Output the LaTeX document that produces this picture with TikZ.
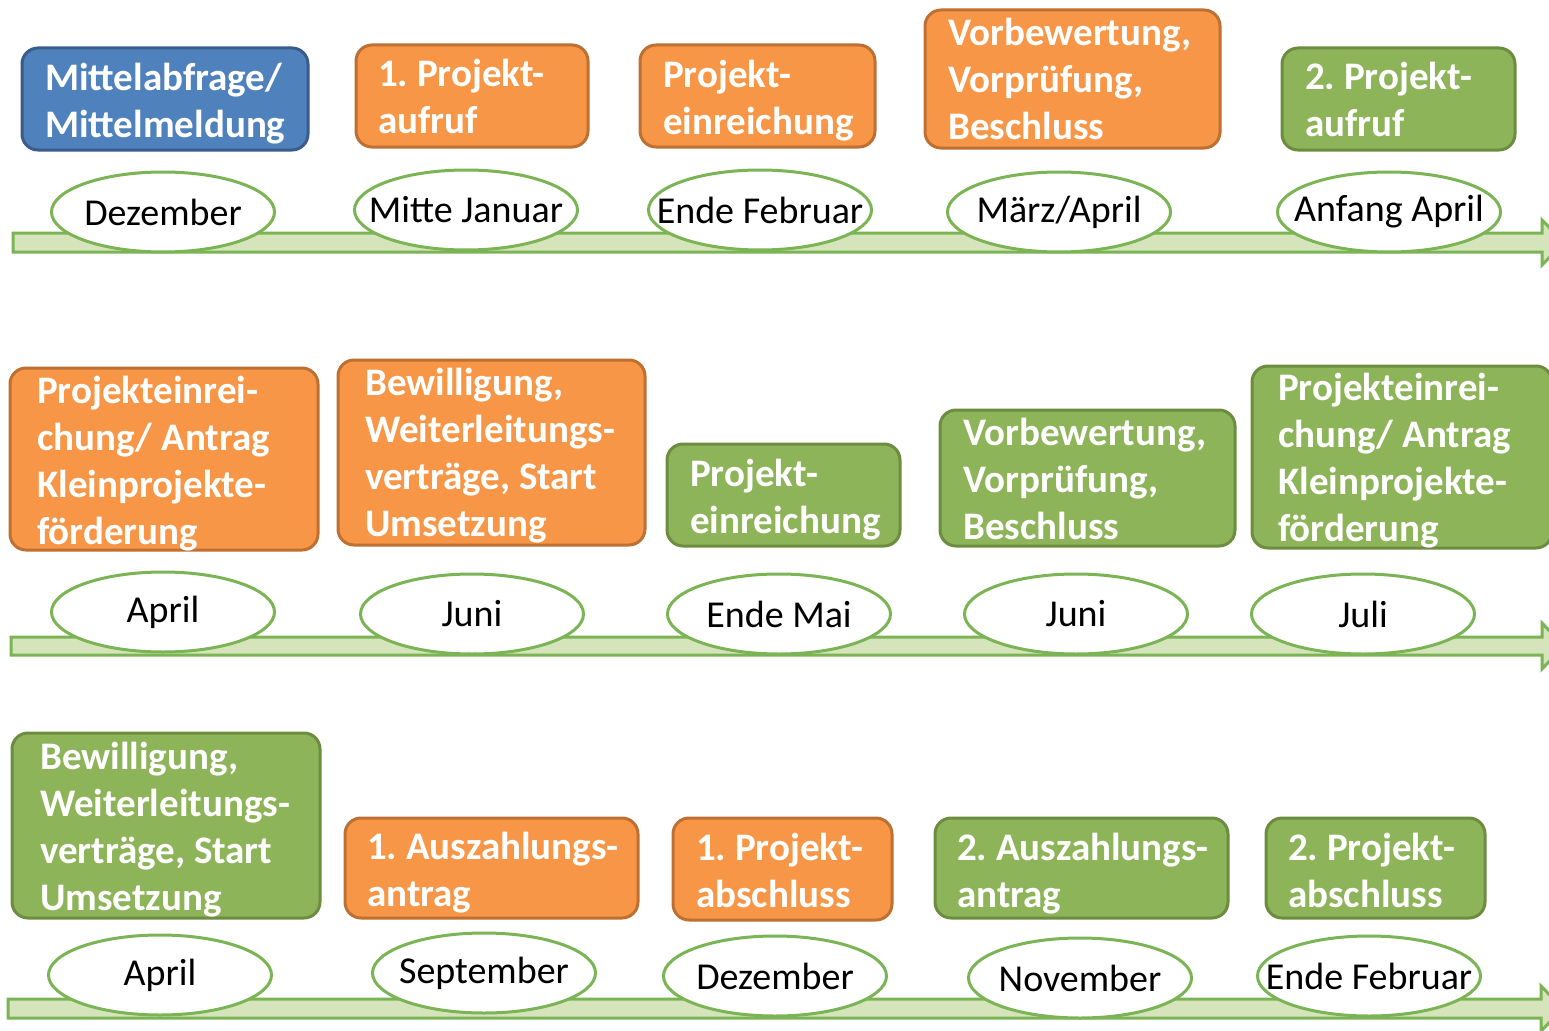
\documentclass[tikz,border=0pt]{standalone}
\usepackage{fontspec}
\setmainfont{Carlito}
\frenchspacing
\usetikzlibrary{shapes.geometric}
\definecolor{orfill}{RGB}{247,150,70}
\definecolor{ordraw}{RGB}{190,112,50}
\definecolor{grfill}{RGB}{141,180,89}
\definecolor{grdraw}{RGB}{108,140,64}
\definecolor{blfill}{RGB}{79,129,189}
\definecolor{bldraw}{RGB}{56,93,138}
\definecolor{elldraw}{RGB}{122,180,84}
\definecolor{bandfill}{RGB}{214,228,188}
\newcommand{\bt}[1]{\begin{tabular}[t]{@{}l@{}}#1\end{tabular}}
\newcommand{\mt}[1]{\makebox[0pt]{#1}}
\tikzset{
  boxbase/.style={rectangle, rounded corners=16pt, line width=3pt, inner sep=0pt},
  obox/.style={boxbase, fill=orfill, draw=ordraw},
  gbox/.style={boxbase, fill=grfill, draw=grdraw},
  bbox/.style={boxbase, fill=blfill, draw=bldraw},
  btxt/.style={anchor=base west, inner sep=0pt, text=white,
    font=\fontsize{39}{47}\selectfont\bfseries},
  month/.style={ellipse, draw=elldraw, line width=3pt, fill=white,
    minimum width=223pt, minimum height=80pt, inner sep=0pt,
    font=\fontsize{38}{45}\selectfont},
  band/.style={fill=bandfill, draw=elldraw, line width=3pt, line join=miter}
}
\begin{document}
\begin{tikzpicture}[x=1pt,y=-1pt]
\useasboundingbox (0,0) rectangle (1549,1030);
\clip (0,0) rectangle (1549,1030);
\fill[white] (0,0) rectangle (1549,1030);
% timeline bands
\draw[band] (13,233) -- (1542,233) -- (1542,220) -- (1564,242.5) -- (1542,265) -- (1542,252) -- (13,252) -- cycle;
\draw[band] (11,637) -- (1542,637) -- (1542,623) -- (1564,646) -- (1542,669) -- (1542,655) -- (11,655) -- cycle;
\draw[band] (8,999) -- (1541,999) -- (1541,986) -- (1563,1008.5) -- (1541,1031) -- (1541,1018) -- (8,1018) -- cycle;
% row 1
\node[bbox, minimum width=286pt, minimum height=102pt] (b1) at (165,99) {};
\node[obox, minimum width=232pt, minimum height=102pt] (b2) at (472,96) {};
\node[obox, minimum width=235pt, minimum height=102pt] (b3) at (757.5,96) {};
\node[obox, minimum width=295pt, minimum height=138pt] (b4) at (1072.5,79) {};
\node[gbox, minimum width=233pt, minimum height=102pt] (b5) at (1398.5,99) {};
\node[btxt] (t1) at (45,91) {\bt{Mittelabfrage/\\Mittelmeldung}};
\node[btxt] (t2) at (378,87) {\bt{1. Projekt-\\aufruf}};
\node[btxt] (t3) at (663,88) {\bt{Projekt-\\einreichung}};
\node[btxt] (t4) at (948,46) {\bt{Vorbewertung,\\Vorprüfung,\\Beschluss}};
\node[btxt] (t5) at (1305,90) {\bt{2. Projekt-\\aufruf}};
\node[month] (e1) at (163,212) {\mt{Dezember}};
\node[month] (e2) at (466,210) {\mt{Mitte Januar}};
\node[month] (e3) at (760,210) {\mt{Ende Februar}};
\node[month] (e4) at (1059,212) {\mt{März/April}};
\node[month] (e5) at (1389,212) {\mt{Anfang April}};
% row 2
\node[obox, minimum width=308pt, minimum height=182pt] (b6) at (164,459) {};
\node[obox, minimum width=307pt, minimum height=185pt] (b7) at (491.5,452.5) {};
\node[gbox, minimum width=233pt, minimum height=102pt] (b8) at (783.5,495) {};
\node[gbox, minimum width=295pt, minimum height=136pt] (b9) at (1087.5,478) {};
\node[gbox, minimum width=300pt, minimum height=182pt] (b10) at (1402,457) {};
\node[btxt] (t6) at (37,403) {\bt{Projekteinrei-\\chung/ Antrag\\Kleinprojekte-\\förderung}};
\node[btxt] (t7) at (365,395) {\bt{Bewilligung,\\Weiterleitungs-\\verträge, Start\\Umsetzung}};
\node[btxt] (t8) at (690,486) {\bt{Projekt-\\einreichung}};
\node[btxt] (t9) at (963,445) {\bt{Vorbewertung,\\Vorprüfung,\\Beschluss}};
\node[btxt] (t10) at (1278,400) {\bt{Projekteinrei-\\chung/ Antrag\\Kleinprojekte-\\förderung}};
\node[month] (e6) at (163,612) {\mt{April}};
\node[month] (e7) at (472,614) {\mt{Juni}};
\node[month] (e8) at (779,614) {\mt{Ende Mai}};
\node[month] (e9) at (1076,614) {\mt{Juni}};
\node[month] (e10) at (1363,614) {\mt{Juli}};
% row 3
\node[gbox, minimum width=308pt, minimum height=185pt] (b11) at (166,825.5) {};
\node[obox, minimum width=293pt, minimum height=100pt] (b12) at (491.5,868) {};
\node[obox, minimum width=219pt, minimum height=102pt] (b13) at (782.5,869) {};
\node[gbox, minimum width=293pt, minimum height=100pt] (b14) at (1081.5,868) {};
\node[gbox, minimum width=219pt, minimum height=100pt] (b15) at (1375.5,868) {};
\node[btxt] (t11) at (40,769) {\bt{Bewilligung,\\Weiterleitungs-\\verträge, Start\\Umsetzung}};
\node[btxt] (t12) at (367,859) {\bt{1. Auszahlungs-\\antrag}};
\node[btxt] (t13) at (696,860) {\bt{1. Projekt-\\abschluss}};
\node[btxt] (t14) at (957,860) {\bt{2. Auszahlungs-\\antrag}};
\node[btxt] (t15) at (1288,860) {\bt{2. Projekt-\\abschluss}};
\node[month] (e11) at (160,975) {\mt{April}};
\node[month] (e12) at (484,973) {\mt{September}};
\node[month] (e13) at (775,976) {\mt{Dezember}};
\node[month] (e14) at (1080,978) {\mt{November}};
\node[month] (e15) at (1369,976) {\mt{Ende Februar}};
\end{tikzpicture}
\end{document}
